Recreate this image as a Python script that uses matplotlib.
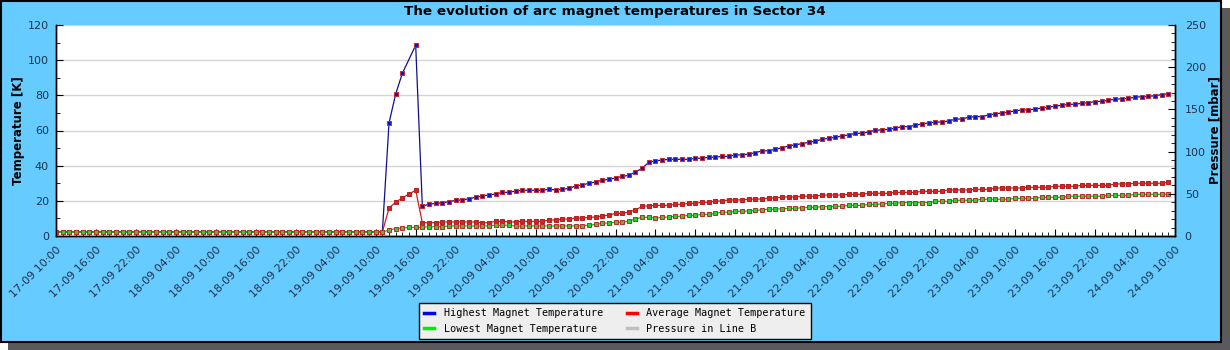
import matplotlib
matplotlib.use("Agg")
import matplotlib.pyplot as plt
import matplotlib.dates as mdates
from matplotlib.patches import Rectangle
from matplotlib.lines import Line2D
from datetime import datetime, timedelta

# hourly readings, starting 17-09 10:00
highest = [2.4, 2.4, 2.4, 2.4, 2.4, 2.4, 2.4, 2.4, 2.4, 2.4,
           2.4, 2.4, 2.4, 2.4, 2.4, 2.4, 2.4, 2.4, 2.4, 2.4,
           2.4, 2.4, 2.4, 2.4, 2.4, 2.4, 2.4, 2.4, 2.4, 2.4,
           2.4, 2.4, 2.4, 2.4, 2.4, 2.4, 2.4, 2.4, 2.4, 2.4,
           2.4, 2.4, 2.4, 2.4, 2.4, 2.4, 2.4, 2.4, 2.4, 2.4,
           64.3, 80.8, 92.5, None, 108.5,
           17.1, 18.0, 18.6, 18.9, 19.5, 20.3, 20.5, 21.2, 22.0, 22.8, 23.3, 23.9,
           24.8, 24.8, 25.6, 26.0, 26.0, 26.0, 26.0, 26.6, 26.2, 26.6, 27.1, 28.4,
           29.0, 30.0, 30.7, 31.7, 32.2, 33.0, 33.9, 34.5, 36.4, 38.5, 41.9, 42.7,
           43.2, 43.6, 43.6, 43.6, 43.6, 44.2, 44.2, 44.8, 44.8, 45.3, 45.3, 46.1,
           46.1, 46.6, 47.4, 48.4, 48.5, 49.3, 50.2, 51.2, 51.9, 52.5, 53.3, 53.9,
           55.0, 55.6, 56.1, 56.9, 57.5, 58.4, 58.4, 59.2, 60.1, 60.3, 60.7, 61.3,
           62.2,
           62.2, 63.0, 63.7, 64.3, 64.8, 64.8, 65.4, 66.4, 66.6, 67.5, 67.9, 67.9,
           68.8, 69.4, 70.0, 70.5, 71.1, 71.7, 71.7, 72.2, 72.8, 73.2, 73.9, 74.3,
           74.9, 74.9, 75.5, 75.8, 76.4, 76.6, 77.2, 77.7, 78.1, 78.3, 78.9, 79.3,
           79.4, 79.8, 80.4, 80.9]

average = [2.3, 2.3, 2.3, 2.3, 2.3, 2.3, 2.3, 2.3, 2.3, 2.3,
           2.3, 2.3, 2.3, 2.3, 2.3, 2.3, 2.3, 2.3, 2.3, 2.3,
           2.3, 2.3, 2.3, 2.3, 2.3, 2.3, 2.3, 2.3, 2.3, 2.3,
           2.3, 2.3, 2.3, 2.3, 2.3, 2.3, 2.3, 2.3, 2.3, 2.3,
           2.3, 2.3, 2.3, 2.3, 2.3, 2.3, 2.3, 2.3, 2.3, 2.3,
           15.9, 19.3, 21.6, 23.9, 26.0,
           7.6, 7.6, 7.6, 8.0, 8.0, 8.0, 8.0, 8.0, 8.0, 7.6, 7.6, 8.3,
           8.3, 8.0, 8.0, 8.3, 8.3, 8.3, 8.3, 9.1, 9.1, 9.5, 9.7, 10.2,
           10.2, 10.6, 10.8, 11.4, 11.9, 12.9, 12.9, 13.7, 14.8, 16.9, 17.1, 17.4,
           17.4, 17.4, 18.0, 18.0, 18.6, 18.6, 19.2, 19.2, 19.9, 19.9, 20.5, 20.5,
           20.5, 21.0, 21.0, 21.0, 21.6, 21.6, 22.2, 22.2, 22.2, 22.6, 22.6, 22.6,
           23.3, 23.3, 23.3, 23.3, 23.7, 23.7, 23.7, 24.3, 24.3, 24.3, 24.3, 24.8,
           24.8,
           24.8, 24.8, 25.4, 25.4, 25.4, 25.4, 26.2, 26.2, 26.2, 26.2, 26.5, 26.5,
           26.5, 27.3, 27.3, 27.3, 27.3, 27.3, 27.7, 27.7, 27.7, 27.7, 28.3, 28.3,
           28.3, 28.3, 28.8, 28.8, 28.8, 28.8, 28.8, 29.6, 29.6, 29.6, 30.0, 30.0,
           30.0, 30.0, 30.0, 30.7]

lowest = [2.2, 2.2, 2.2, 2.2, 2.2, 2.2, 2.2, 2.2, 2.2, 2.2,
          2.2, 2.2, 2.2, 2.2, 2.2, 2.2, 2.2, 2.2, 2.2, 2.2,
          2.2, 2.2, 2.2, 2.2, 2.2, 2.2, 2.2, 2.2, 2.2, 2.2,
          2.2, 2.2, 2.2, 2.2, 2.2, 2.2, 2.2, 2.2, 2.2, 2.2,
          2.2, 2.2, 2.2, 2.2, 2.2, 2.2, 2.2, 2.2, 2.2, 2.2,
          3.4, 4.2, 4.5, 4.9, 4.9,
          4.9, 5.3, 5.3, 5.3, 5.7, 5.7, 5.7, 5.7, 5.7, 5.7, 5.7, 6.1,
          6.1, 6.1, 5.7, 5.7, 5.7, 5.7, 5.7, 5.7, 5.7, 5.7, 5.7, 5.7,
          5.9, 6.1, 6.6, 7.2, 7.4, 7.8, 7.8, 8.5, 9.7, 10.6, 10.6, 10.1,
          10.6, 10.8, 11.2, 11.2, 11.8, 11.8, 12.3, 12.3, 12.9, 13.5, 13.5, 14.0,
          14.0, 14.2, 14.6, 14.8, 15.2, 15.2, 15.5, 15.7, 15.7, 16.1, 16.3, 16.3,
          16.7, 16.7, 16.9, 16.9, 17.4, 17.4, 17.4, 18.0, 18.0, 18.2, 18.6, 18.6,
          19.0,
          19.0, 19.0, 19.0, 19.0, 19.7, 19.7, 19.7, 20.3, 20.3, 20.3, 20.3, 20.9,
          20.9, 20.9, 20.9, 20.9, 21.4, 21.4, 21.4, 21.4, 22.0, 22.0, 22.0, 22.0,
          22.6, 22.6, 22.6, 22.6, 22.6, 22.6, 23.1, 23.1, 23.1, 23.1, 23.7, 23.7,
          23.7, 23.7, 23.7, 23.7]

pressure = []  # no pressure data shown in Line B

start = datetime(2008, 9, 17, 10, 0)
end = datetime(2008, 9, 24, 10, 0)
times = [start + timedelta(hours=i) for i in range(len(highest))]

W, H = 1230, 350
fig = plt.figure(figsize=(W / 100, H / 100), dpi=100)
fig.patch.set_facecolor("white")
fig.patches.append(Rectangle((8 / W, 0), 1222 / W, 342 / H, transform=fig.transFigure,
                             facecolor="#5a5a5a", edgecolor="none", zorder=-2))
fig.patches.append(Rectangle((1 / W, 8 / H), 1220 / W, 341 / H, transform=fig.transFigure,
                             facecolor="#66CCFF", edgecolor="black", linewidth=1.5, zorder=-1))

ax = fig.add_axes([56 / W, 1 - 236 / H, (1175 - 56) / W, (236 - 25) / H])
ax.set_facecolor("white")
ax2 = ax.twinx()

txt = "#1c3350"

hx = [t for t, v in zip(times, highest) if v is not None]
hy = [v for v in highest if v is not None]
ax.plot(hx, hy, color="#10108c", lw=0.9, marker="s", ms=3.5,
        mfc="#1414c8", mec="#c82828", mew=0.7)
ax.plot(times, average, color="#cc2020", lw=0.9, marker="s", ms=3.5,
        mfc="#dd2020", mec="#b02020", mew=0.7)
ax.plot(times, lowest, color="#20b020", lw=0.9, marker="s", ms=3.5,
        mfc="#33cc33", mec="#c02828", mew=0.7)
ax2.plot(times[:len(pressure)], pressure, color="#c0c0c0", lw=1)

ax.set_xlim(start, end)
ax.set_ylim(0, 120)
ax2.set_ylim(0, 250)
ax.set_yticks(range(0, 121, 20))
ax.set_yticks(range(10, 120, 20), minor=True)
ax2.set_yticks(range(0, 251, 50))
ax2.set_yticks(range(0, 251, 10), minor=True)

ax.xaxis.set_major_locator(mdates.HourLocator(byhour=[4, 10, 16, 22]))
ax.xaxis.set_minor_locator(mdates.HourLocator())
ax.xaxis.set_major_formatter(mdates.DateFormatter("%d-%m %H:%M"))
for lab in ax.get_xticklabels():
    lab.set_rotation(45)
    lab.set_ha("right")
    lab.set_rotation_mode("anchor")

ax.grid(axis="y", color="#d4d4d4", lw=1)
ax.set_axisbelow(True)

for a in (ax, ax2):
    a.spines["top"].set_visible(False)
    for s in ("left", "right", "bottom"):
        a.spines[s].set_color("black")
        a.spines[s].set_linewidth(1)
ax.tick_params(axis="both", which="major", direction="in", length=5, labelsize=8,
               labelcolor=txt, pad=5, right=False)
ax.tick_params(axis="both", which="minor", direction="in", length=3, right=False)
ax.tick_params(axis="x", pad=6)
ax2.tick_params(axis="y", which="major", direction="in", length=5, labelsize=8,
                labelcolor=txt, pad=7)
ax2.tick_params(axis="y", which="minor", direction="in", length=3)

ax.set_ylabel("Temperature [K]", fontsize=8.5, fontweight="bold", color="black", labelpad=2)
ax2.set_ylabel("Pressure [mbar]", fontsize=8.5, fontweight="bold", color="black", labelpad=2)

fig.text(615 / W, 1 - 11 / H, "The evolution of arc magnet temperatures in Sector 34",
         ha="center", va="center", fontsize=9.7, fontweight="bold", color="black")

handles = [Line2D([], [], color="#0000ff", lw=2.5),
           Line2D([], [], color="#00ee00", lw=2.5),
           Line2D([], [], color="#ff0000", lw=2.5),
           Line2D([], [], color="#c0c0c0", lw=2.5)]
names = ["Highest Magnet Temperature", "Lowest Magnet Temperature",
         "Average Magnet Temperature", "Pressure in Line B"]
leg = fig.legend(handles, names, loc="center", bbox_to_anchor=(615 / W, 1 - 321 / H),
                 ncol=2, prop={"family": "DejaVu Sans Mono", "size": 7.3},
                 frameon=True, fancybox=False, framealpha=1, facecolor="#eeeeee",
                 edgecolor="black", handlelength=1.0, columnspacing=2.4,
                 labelspacing=0.55, borderpad=0.5, handletextpad=0.9)
leg.get_frame().set_linewidth(1)

fig.savefig("out.png", dpi=100)
